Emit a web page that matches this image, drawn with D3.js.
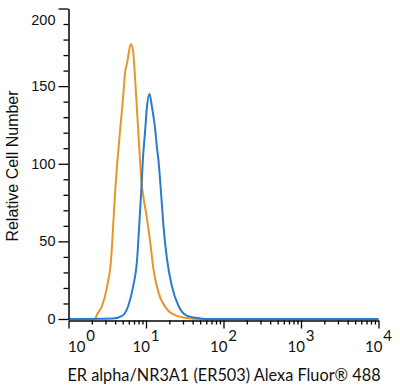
<!DOCTYPE html>
<html>
<head>
<meta charset="utf-8">
<script src="https://cdn.jsdelivr.net/npm/d3@7"></script>
<style>
	body { margin: 0; background: #fff; }
	svg { display: block; }
</style>
</head>
<body>
<div id="chart"></div>
<script>
// orange histogram (control)
var controlIntensity = [1, 2.2, 2.34, 2.71, 3.15, 3.55, 3.77, 4.0, 4.64, 5.07, 5.38, 5.71, 6.25, 6.44, 6.83, 7.25, 7.69, 8.17, 8.67, 9.3, 10.2, 11.3, 12.5, 14.5, 18.6, 25, 34, 45, 10000];
var controlCount = [0, 0, 3, 8.4, 21, 39, 60, 82, 122, 143, 159, 165, 176, 177, 172, 154, 133, 111, 90, 78, 66, 50, 32, 17, 6.4, 2, 0.6, 0, 0];
// blue histogram (ER503)
var stainedIntensity = [1, 3.77, 4.92, 5.89, 6.83, 7.69, 8.17, 8.67, 9.12, 9.77, 10.3, 11.1, 11.9, 13.15, 13.8, 14.5, 15.6, 16.8, 18.6, 21.6, 26.3, 34.1, 45.9, 60, 10000];
var stainedCount = [0, 0.3, 2, 8.4, 21, 39, 60, 82, 103, 122, 137, 145, 137, 122, 111, 102, 82, 60, 39, 21, 8.4, 2, 0.6, 0, 0];

var yTicks = d3.range(0, 201, 10);
var yLabels = [0, 50, 100, 150, 200];
var xDecades = [0, 1, 2, 3, 4];

var width = 400, height = 389;
var plotLeft = 68.5, plotRight = 378.5, plotTop = 8.5, plotBottom = 319;

var svg = d3.select("#chart").append("svg")
	.attr("width", width)
	.attr("height", height);

var x = d3.scaleLog().domain([1, 10000]).range([plotLeft, plotRight]);
var y = d3.scaleLinear().domain([0, 200]).range([plotBottom, plotTop]);

function drawCurve(xs, ys, color){
	var pts = xs.map(function(v, i){ return [v, ys[i]]; });
	var line = d3.line()
		.x(function(d){ return x(d[0]); })
		.y(function(d){ return y(d[1]); })
		.curve(d3.curveMonotoneX);
	svg.append("path")
		.datum(pts)
		.attr("d", line)
		.attr("fill", "none")
		.attr("stroke", color)
		.attr("stroke-width", 2)
		.attr("stroke-linejoin", "round");
}

drawCurve(controlIntensity, controlCount, "#e8952b");
drawCurve(stainedIntensity, stainedCount, "#2a7bcd");

// y axis
var yAxis = d3.axisLeft(y)
	.tickValues(yTicks)
	.tickSizeOuter(0)
	.tickFormat("");
var gy = svg.append("g")
	.attr("transform", "translate(" + plotLeft + ",0)")
	.call(yAxis);
gy.select(".domain").attr("stroke", "#000").attr("stroke-width", 1.5);
gy.selectAll(".tick line")
	.attr("stroke", "#000")
	.attr("stroke-width", 1.3)
	.attr("x2", function(d){ return yLabels.indexOf(d) >= 0 ? -10 : -5; });

yLabels.forEach(function(v){
	svg.append("text")
		.attr("x", plotLeft - 13)
		.attr("y", v == 200 ? y(v) + 16 : y(v) + 5)
		.attr("text-anchor", "end")
		.attr("font-family", "Liberation Sans, Arial, sans-serif")
		.attr("font-size", "14.5px")
		.attr("fill", "#111")
		.text(v);
});

// x axis
var xAxis = d3.axisBottom(x)
	.tickValues(x.ticks())
	.tickSizeOuter(0)
	.tickFormat("");
var gx = svg.append("g")
	.attr("transform", "translate(0," + (plotBottom + 1.5) + ")")
	.call(xAxis);
gx.select(".domain").attr("stroke", "#000").attr("stroke-width", 1.5);
gx.selectAll(".tick line")
	.attr("stroke", "#000")
	.attr("stroke-width", 1.3)
	.attr("y2", function(d){
		var l = Math.log10(d);
		return Math.abs(l - Math.round(l)) < 1e-9 ? 8 : 4;
	});

xDecades.forEach(function(k){
	var px = x(Math.pow(10, k));
	if(k == 0) px += 13;
	var t = svg.append("text")
		.attr("x", px)
		.attr("y", 352)
		.attr("text-anchor", "middle")
		.attr("font-family", "Lato, sans-serif")
		.attr("font-size", "15px")
		.attr("fill", "#111");
	t.append("tspan").text("10");
	t.append("tspan")
		.attr("dy", -11)
		.attr("dx", 1)
		.text(k);
});

// axis titles
svg.append("text")
	.attr("x", 224)
	.attr("y", 381)
	.attr("text-anchor", "middle")
	.attr("font-family", "Lato, sans-serif")
	.attr("font-size", "16.3px")
	.attr("fill", "#111")
	.text("ER alpha/NR3A1 (ER503) Alexa Fluor® 488");

svg.append("text")
	.attr("transform", "translate(18,166) rotate(-90)")
	.attr("text-anchor", "middle")
	.attr("font-family", "Liberation Sans, Arial, sans-serif")
	.attr("font-size", "16px")
	.attr("fill", "#111")
	.text("Relative Cell Number");
</script>
</body>
</html>
